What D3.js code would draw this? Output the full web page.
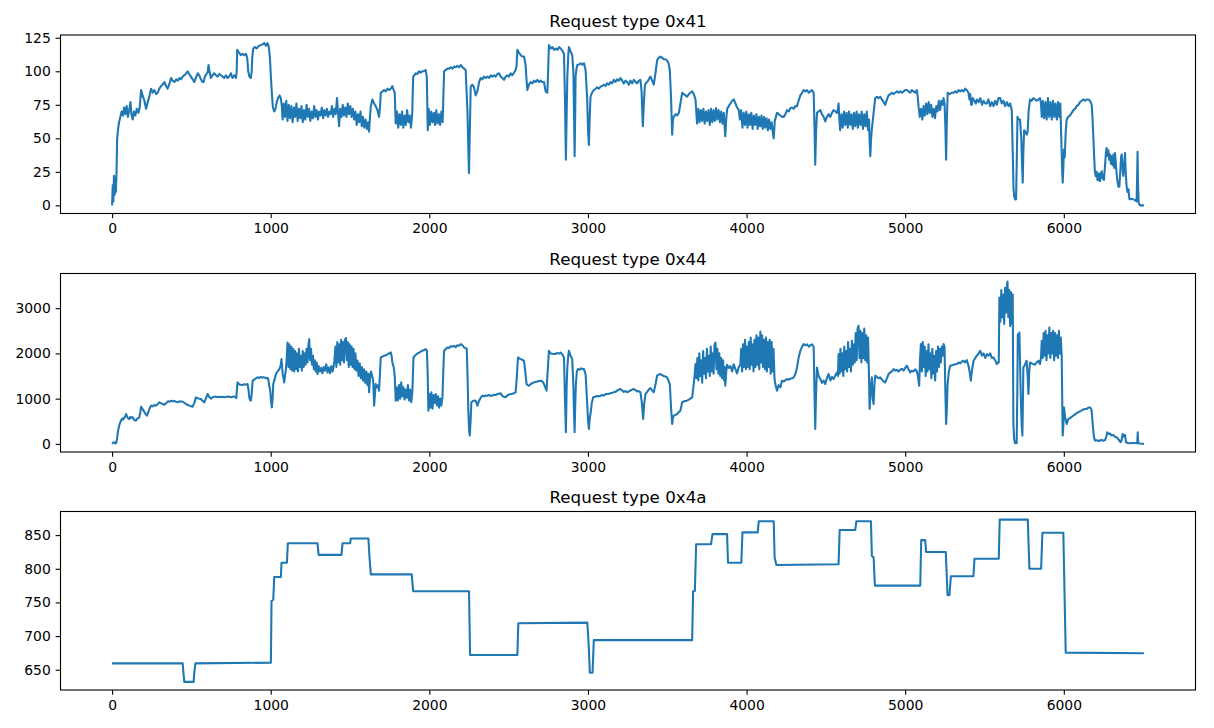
<!DOCTYPE html>
<html>
<head>
<meta charset="utf-8">
<script src="https://d3js.org/d3.v7.min.js"></script>
<style>
body { margin: 0; background: #fff; }
svg { display: block; font-family: "DejaVu Sans", sans-serif; }
.line { fill: none; stroke: #1f77b4; stroke-width: 2.08px; stroke-linejoin: round; }
.frame { fill: none; stroke: #000; stroke-width: 1.1px; }
.tick line { stroke: #000; stroke-width: 1.1px; }
.tick text { font-size: 13.9px; fill: #000; }
.title { font-size: 16.7px; text-anchor: middle; fill: #000; }
</style>
</head>
<body>
<svg id="chart" width="1214" height="728"></svg>
<script>
// [sample, value] pairs
const series41 = [[0,0],[4,15],[8,3],[12,22],[16,8],[20,20],[24,10],[28,25],[32,50],[38,57],[44,62],[52,66],[60,70],[68,67],[76,73],[84,68],[92,74],[100,66],[108,71],[116,77],[122,68],[130,64],[138,70],[146,67],[156,72],[166,69],[174,73],[183,86],[192,82],[204,78],[214,72],[225,77],[236,82],[246,87],[256,84],[267,86],[278,83],[288,84],[298,87],[308,89],[318,90],[330,92],[340,89],[350,87],[360,90],[372,95],[382,93],[393,92],[405,94],[415,93],[425,95],[435,94],[445,96],[455,97],[465,98],[476,100],[486,98],[497,96],[508,94],[518,92],[528,95],[540,98.5],[550,97],[560,94],[570,92],[577,92],[585,96],[595,98],[602,99],[608,104.7],[614,100],[623,95],[633,97],[644,98.5],[655,97],[665,96],[676,98],[686,97],[697,96],[707,95],[718,97],[728,95],[738,96],[749,98.5],[759,95],[770,97],[781,95],[785,99],[789,116],[800,114],[812,112],[822,113],[834,112],[844,113],[852,110],[858,100],[866,96],[875,95],[880,100],[884,111],[890,117],[900,118],[912,117],[925,119],[938,119.5],[948,120],[959,121],[970,119],[980,121],[988,118],[995,110],[1001,96],[1008,82],[1014,73],[1022,70],[1030,72],[1038,77],[1046,80],[1056,82],[1064,80],[1070,74],
  [1075,64],[1082,76],[1090,66],[1098,78],[1106,63],[1114,75],[1122,65],[1130,74],[1138,62],[1146,73],[1154,66],[1162,76],[1170,63],[1178,72],[1186,65],[1194,74],[1202,62],[1210,71],[1218,64],[1226,75],[1234,66],[1242,72],[1250,63],[1258,70],[1266,65],[1274,74],[1282,66],[1290,71],[1298,64],[1306,70],[1314,67],[1322,73],[1330,65],[1338,71],[1346,67],[1354,72],[1362,66],[1370,70],[1378,68],[1386,74],[1394,66],[1402,72],[1410,68],[1418,80],[1424,70],[1431,59],[1438,72],[1446,66],[1454,75],[1462,67],[1470,73],[1478,66],[1486,76],[1494,68],[1502,74],[1510,66],[1518,72],[1526,64],[1534,70],[1542,60],[1550,68],[1558,62],[1566,70],[1574,59],[1582,66],[1590,58],[1598,64],[1606,57],[1614,62],[1620,55],[1626,66],
  [1631,74],[1641,79],[1652,76],[1662,74],[1673,71],[1683,66],[1690,75],[1694,84],[1705,85],[1715,86],[1725,85],[1736,87],[1746,86],[1757,87],[1767,89],[1775,86],[1782,84],
  [1788,61],[1796,70],[1804,58],[1812,68],[1820,60],[1828,70],[1836,58],[1844,67],[1852,60],[1860,71],[1868,62],[1876,67],[1884,58],[1892,68],
  [1898,96],[1906,97],[1914,98.5],[1925,98],[1935,100],[1946,99],[1956,100],[1967,100],[1977,101],[1984,96],
  [1990,56],[1996,72],[2004,60],[2012,70],[2020,62],[2028,69],[2036,60],[2044,71],[2052,61],[2060,68],[2068,60],[2076,70],[2084,62],
  [2093,100],[2104,101],[2114,102],[2125,102],[2135,103],[2146,102],[2156,103.5],[2167,103],[2177,104],[2188,103],[2198,104.7],[2209,103],[2219,102],[2229,101],[2240,71],[2250,24],[2256,60],[2261,88.6],[2271,90],[2282,88],[2292,82],[2303,85],[2314,92],[2324,95],[2335,94],[2345,96],[2356,95],[2366,96],[2377,95],[2387,97],[2398,96],[2408,97],[2418,96],[2429,98],[2439,98.5],[2450,96],[2460,95],[2471,93.6],[2481,96],[2492,97],[2502,96],[2513,98.5],[2523,97],[2534,99],[2544,101],[2550,104],[2555,116],[2565,114],[2576,112],[2586,111],[2597,111],[2607,104.7],[2612,95],[2618,86],[2628,90],[2639,92],[2650,91],[2660,93],[2670,92],[2681,93.6],[2692,92],[2702,93],[2712,92],[2723,92],[2733,85],[2744,84],[2749,100],[2754,119.5],[2765,117],[2776,118],[2786,116],[2797,117],[2807,116],[2818,118],[2828,117],[2840,115],[2849,113],[2855,80],[2861,34],[2866,70],[2870,96],[2876,112],[2880,118],[2890,115],[2901,112],[2908,100],[2912,70],[2916,36.6],[2920,70],[2922,96],[2928,102],[2933,104.7],[2944,105],[2954,106],[2965,105],[2975,106],[2985,101],[2995,80],[3001,55],[3006,45],[3011,65],[3016,81],[3026,84],[3037,86],[3048,87],[3058,88],[3069,87],[3080,88.6],[3090,89],[3100,90],[3111,89],[3121,91],[3132,90],[3142,92],[3153,91],[3163,93.6],[3174,92],[3184,94],[3195,93],[3205,95],[3216,93],[3226,91],[3237,93],[3247,92],[3258,90],[3268,93],[3279,91],[3289,93.6],[3300,92],[3310,91],[3320,93],[3331,93.6],[3338,85],[3346,59],[3352,75],[3358,88],[3363,91],[3374,92],[3384,94],[3394,96],[3405,93],[3415,90],[3425,98],[3436,108],[3446,110],[3457,111],[3468,110],[3478,109],[3488,109],[3499,108],[3508,106],[3516,101],[3524,80],[3531,52.7],[3536,64],[3541,66],[3552,68],[3562,67],[3573,69],[3583,76],[3594,84],[3604,83],[3615,82],[3625,81],[3636,83],[3646,84],[3657,85],[3667,83],[3678,79],
  [3688,61],[3696,72],[3704,62],[3712,71],[3720,63],[3728,72],[3736,61],[3744,70],[3752,63],[3760,71],[3768,60],[3776,72],[3784,62],[3792,71],[3800,63],[3808,72.5],[3816,64],[3824,71],[3832,62],[3840,70],[3848,61],[3856,69],[3862,58],[3866,51.5],[3872,65],
  [3878,72],[3888,74],[3898,76],[3909,78],[3919,79],[3930,76],[3940,73],[3951,71],
  [3958,64],[3966,71],[3974,58],[3982,69],[3990,60],[3998,70],[4006,58],[4014,68],[4022,60],[4030,69],[4038,57],[4046,67],[4054,60],[4062,68],[4070,57],[4078,66],[4086,59],[4094,67],[4102,57],[4110,66],[4118,58],[4126,65],[4134,56],[4142,64],[4150,57],[4158,62],[4166,54],[4171,50],
  [4178,63],[4192,69],[4203,68],[4213,67],[4224,66],[4234,66],[4245,68],[4255,71],[4266,70],[4276,72.5],[4287,73],[4297,72],[4308,74],[4318,74],[4328,78],[4339,82],[4350,84],[4360,86],[4370,85],[4381,86],[4392,84],[4402,85],[4412,86],[4423,84],[4428,60],[4433,30.4],[4438,55],[4444,69],[4454,70],[4465,71],[4475,68],[4486,66],[4496,62.6],[4507,66],[4517,68],[4528,66],[4538,69],[4549,71],[4560,70],[4570,69],[4576,72],[4580,76],[4584,66],
  [4590,56],[4598,68],[4606,58],[4614,70],[4622,60],[4630,69],[4638,58],[4646,70],[4654,60],[4662,68],[4670,57],[4678,69],[4686,59],[4694,70],[4702,58],[4710,68],[4718,60],[4726,70],[4734,57],[4742,68],[4750,59],[4758,70],[4766,56],[4772,64],[4776,48],[4780,36.6],[4785,50],[4790,57],[4800,68],[4811,80],[4822,81],[4832,80],[4843,81],[4853,79],[4864,77],[4874,75],[4885,79],[4895,82],[4906,83],[4916,84],[4927,83],[4937,84],[4948,85],[4958,84],[4969,85],[4979,84],[4990,85],[5000,86],[5011,86],[5021,85],[5032,84],[5042,86],[5053,85],[5063,84],[5074,86],[5080,80],
  [5084,74],[5092,66],[5100,72],[5108,64],[5116,74],[5124,67],[5132,76],[5140,68],[5148,77],[5156,69],[5164,75],[5172,66],[5180,72],[5188,65],[5196,74],[5204,70],[5212,78],[5220,71],[5228,78],[5236,75],[5242,80],[5248,76],[5253,60],[5258,34],[5263,65],[5268,84],[5280,83],[5292,84],[5305,84],[5315,85],[5326,84],[5336,86],[5347,85],[5357,86],[5368,85],[5378,87],[5389,86],[5399,84],[5405,79],[5410,83],[5416,75],[5420,75],[5426,80],[5436,78],[5445,76],[5452,79],[5463,77],[5473,80],[5484,75],[5494,78],[5505,76],[5515,76],[5525,79],[5536,74],[5546,77],[5557,74],[5567,78],[5578,75],[5588,80],[5599,80],[5609,76],[5620,78],[5630,74],[5641,77],[5651,74],[5662,76],[5672,71],[5678,40],[5683,12],[5687,7],[5693,4.5],[5699,4.5],[5703,30],[5708,66],[5716,64],[5724,64],[5732,50],[5737,30],[5741,17],[5745,40],[5750,56],[5758,55],[5766,52.7],[5772,55],[5778,70],[5787,79],[5797,78],[5808,80],[5818,79],[5829,78],[5840,79],[5850,80],[5856,76],
  [5861,66],[5868,78],[5876,65],[5884,77],[5892,64],[5900,80],[5908,66],[5916,77],[5924,64],[5932,78],[5940,66],[5948,76],[5956,64],[5964,77],[5972,66],[5978,76],[5984,50],[5990,25],[5993,17],[5997,28],[6001,41.6],[6006,36],[6012,55],[6018,64],[6028,66],[6039,67],[6050,69],[6060,71],[6071,72],[6081,74],[6092,75],[6102,77],[6113,78],[6123,79],[6134,78],[6144,79],[6155,79],[6165,78],[6176,75],[6181,65],[6186,51.5],[6192,35],[6196,25],[6201,21.8],[6207,25],[6212,19],[6218,19],[6223,24],[6228,18],[6234,22],[6239,25.5],[6246,20],[6253,19],[6260,30],[6265,38],[6270,42.8],[6276,37],[6281,41],[6286,34],[6292,38],[6297,31],[6302,36.6],[6308,30],[6313,38],[6318,28],[6323,39],[6330,28],[6336,20],[6344,14],[6350,14],[6356,25],[6361,36],[6365,38],[6370,28],[6375,22],[6380,30],[6386,39],[6390,25],[6396,14],[6402,10],[6408,12],[6413,5],[6417,4.5],[6427,5],[6438,4.5],[6448,4],[6459,3],[6462,20],[6465,40],[6468,15],[6472,2],[6480,0],[6492,0],[6505,0]];

const series44 = [[0,0],[8,30],[15,37],[22,10],[25,20],[31,110],[36,250],[40,330],[46,420],[52,480],[57,515],[64,560],[70,540],[78,588],[83,610],[88,660],[95,600],[102,560],[109,550],[116,600],[123,580],[130,588],[137,540],[144,520],[151,515],[158,560],[165,570],[172,588],[178,700],[183,823],[190,780],[198,740],[204,700],[212,660],[220,625],[228,700],[236,780],[246,845],[256,830],[266,860],[277,845],[288,880],[298,919],[308,900],[319,880],[330,867],[340,900],[351,940],[361,930],[372,955],[383,940],[393,950],[404,930],[414,919],[425,940],[435,935],[445,930],[455,910],[466,882],[477,860],[487,845],[497,830],[508,823],[518,900],[529,1029],[539,1010],[550,1000],[560,992],[570,950],[581,919],[591,1000],[602,1102],[612,1040],[623,1000],[633,1030],[644,1040],[655,1044],[665,1030],[676,1040],[686,1035],[697,1040],[707,1030],[718,1035],[728,1045],[739,1040],[749,1030],[760,1040],[770,1044],[778,1040],[783,1010],[787,1200],[791,1360],[801,1320],[812,1308],[822,1300],[833,1320],[843,1310],[854,1323],[860,1200],[865,1029],[870,970],[875,955],[880,1100],[886,1397],[896,1420],[907,1450],[917,1470],[928,1460],[938,1480],[949,1470],[959,1470],[970,1450],[980,1460],[984,1440],[990,1300],[997,1176],[1002,950],[1007,808],[1012,1000],[1016,1323],[1024,1420],[1033,1544],[1043,1600],[1054,1654],[1062,1720],[1068,1874],[1072,1700],[1075,1560],[1080,1460],[1085,1360],[1090,1500],[1096,1654],[1101,1900],
  [1106,2242],[1112,1700],[1118,2200],[1124,1650],[1130,2150],[1136,1620],[1142,2100],[1148,1600],[1154,2050],[1160,1650],[1166,2000],[1172,1600],[1178,2100],[1184,1700],[1190,1950],[1196,1620],[1202,2050],[1208,1700],[1214,2000],[1220,1750],[1226,2100],[1232,1800],[1238,2200],[1243,2315],[1248,1850],[1254,2100],[1260,1750],[1266,1950],[1272,1650],[1278,1850],[1284,1600],[1290,1800],[1295,1544],[1302,1720],[1310,1600],[1318,1680],[1326,1560],[1334,1700],[1342,1620],[1350,1760],[1358,1580],[1366,1690],[1374,1560],[1382,1720],[1390,1600],[1396,1700],[1402,1850],[1408,2150],[1414,1700],[1420,2250],[1426,1800],[1432,2200],[1438,1750],[1444,2300],[1450,1850],[1456,2250],[1462,1800],[1468,2300],[1474,2340],[1480,1850],[1486,2250],[1492,1700],[1498,2200],[1504,1750],[1510,2150],[1516,1700],[1522,2100],[1528,1650],[1534,2000],[1540,1620],[1547,1840],[1554,1500],[1561,1780],[1568,1450],[1575,1700],[1582,1400],[1589,1650],[1596,1350],[1603,1600],[1610,1300],[1616,1550],[1620,1140],[1626,1450],[1632,1600],[1640,1500],[1646,1400],[1652,845],[1657,1100],[1662,1323],[1670,1250],[1678,1300],[1683,1176],[1688,1500],[1694,1911],[1704,1930],[1715,1948],[1725,1960],[1736,1980],[1746,2000],[1757,2021],[1762,1950],[1767,1800],[1775,1700],[1782,1500],
  [1788,955],[1795,1250],[1802,960],[1809,1300],[1816,1000],[1823,1360],[1830,1050],[1837,1250],[1844,980],[1851,1200],[1858,1020],[1865,1300],[1872,960],[1879,1200],[1886,920],[1893,1150],
  [1900,1911],[1912,1960],[1925,2000],[1938,2020],[1950,2050],[1964,2070],[1977,2095],[1985,2060],[1990,1500],
  [1994,735],[2000,1100],[2006,800],[2013,1140],[2020,780],[2027,1080],[2034,900],[2041,1100],[2048,850],[2055,1050],[2062,800],[2069,1000],[2076,850],[2083,1050],
  [2088,1600],[2093,2058],[2104,2100],[2114,2130],[2125,2120],[2135,2160],[2146,2150],[2156,2168],[2167,2140],[2177,2180],[2188,2170],[2198,2205],[2209,2180],[2219,2130],[2229,2120],[2236,2100],[2241,1500],[2246,700],[2251,300],[2255,184],[2260,500],[2265,919],[2276,950],[2285,960],[2292,955],[2303,845],[2313,950],[2324,1020],[2334,1066],[2345,1050],[2355,1070],[2366,1066],[2376,1080],[2387,1060],[2397,1070],[2408,1085],[2418,1080],[2429,1100],[2439,1110],[2450,1117],[2460,1060],[2470,1040],[2481,1029],[2492,1070],[2502,1090],[2513,1102],[2523,1110],[2534,1120],[2544,1140],[2552,1500],[2559,1911],[2567,1890],[2576,1874],[2586,1860],[2597,1837],[2605,1600],[2613,1323],[2620,1300],[2628,1286],[2638,1320],[2649,1340],[2660,1360],[2670,1370],[2681,1380],[2692,1390],[2702,1397],[2712,1380],[2723,1323],[2731,1250],[2739,1176],[2746,1600],[2754,2058],[2765,2000],[2776,1990],[2786,1985],[2797,1990],[2807,2010],[2818,1995],[2828,2020],[2838,1980],[2849,1911],[2855,1000],[2861,257],[2866,1300],[2870,1700],[2876,1950],[2880,2058],[2890,1950],[2901,1874],[2908,1300],[2912,700],[2916,257],[2920,900],[2924,1323],[2930,1600],[2937,1654],[2947,1640],[2957,1670],[2966,1650],[2975,1654],[2985,1544],[2995,900],[3001,500],[3006,330],[3011,550],[3016,660],[3024,900],[3033,1029],[3045,1040],[3056,1060],[3068,1050],[3080,1066],[3090,1080],[3100,1070],[3111,1100],[3121,1102],[3132,1110],[3142,1120],[3153,1130],[3163,1140],[3174,1150],[3184,1180],[3195,1200],[3205,1212],[3216,1180],[3226,1150],[3237,1170],[3247,1140],[3258,1160],[3268,1180],[3279,1200],[3289,1212],[3300,1190],[3310,1160],[3320,1170],[3331,1140],[3340,900],[3348,551],[3355,900],[3363,1102],[3373,1150],[3384,1200],[3394,1235],[3405,1180],[3415,1140],[3425,1300],[3436,1507],[3446,1530],[3457,1544],[3468,1520],[3478,1500],[3488,1490],[3499,1470],[3508,1400],[3516,1323],[3524,800],[3531,441],[3536,580],[3541,625],[3552,640],[3562,661],[3572,700],[3583,735],[3594,919],[3604,940],[3615,950],[3625,955],[3636,980],[3646,1000],[3657,1029],[3667,1323],[3672,1500],
  [3678,1764],[3684,1450],[3690,1900],[3696,1400],[3702,2000],[3708,1500],[3714,1850],[3720,1350],[3726,2050],[3732,1550],[3738,1900],[3744,1450],[3750,2100],[3756,1600],[3762,1950],[3768,1500],[3774,2150],[3780,1600],[3786,2000],[3792,1550],[3798,2200],[3804,2240],[3810,1650],[3816,2100],[3822,1550],[3828,2000],[3834,1500],[3840,1900],[3846,1450],[3852,1850],[3858,1400],[3862,1700],[3866,1286],[3872,1600],[3877,1750],[3888,1680],[3898,1720],[3909,1600],[3919,1760],[3930,1650],[3940,1560],[3951,1700],[3961,1750],
  [3966,2100],[3972,1600],[3978,2200],[3984,1700],[3990,2300],[3996,1650],[4002,2150],[4008,1700],[4014,2250],[4020,1650],[4026,2350],[4032,1750],[4038,2200],[4044,1600],[4050,2300],[4056,1700],[4062,2400],[4068,1750],[4074,2350],[4080,1650],[4087,2484],[4092,1800],[4098,2400],[4104,1700],[4110,2300],[4116,1650],[4122,2350],[4128,1600],[4134,2250],[4140,1700],[4146,2300],[4152,1550],[4158,2250],[4164,1600],[4170,2100],[4176,1450],[4181,1323],[4192,1176],[4202,1300],[4213,1250],[4223,1395],[4234,1380],[4245,1410],[4255,1433],[4266,1420],[4276,1440],[4287,1450],[4297,1470],[4308,1550],[4318,1690],[4328,1900],[4339,2058],[4350,2150],[4360,2205],[4370,2180],[4381,2200],[4392,2150],[4402,2180],[4412,2200],[4423,2150],[4428,1200],[4433,330],[4438,1100],[4444,1690],[4454,1500],[4465,1433],[4475,1350],[4486,1400],[4496,1323],[4506,1450],[4517,1544],[4528,1400],[4538,1480],[4549,1433],[4560,1520],[4570,1580],[4576,1500],
  [4580,1985],[4586,1550],[4592,2100],[4598,1600],[4604,2000],[4610,1500],[4616,2150],[4622,1650],[4628,2050],[4634,1600],[4640,2250],[4646,1700],[4652,2100],[4658,1600],[4664,2280],[4670,1750],[4676,2200],[4682,1800],[4688,2450],[4694,1850],[4700,2550],[4706,2610],[4712,1900],[4718,2500],[4724,1800],[4730,2450],[4736,1900],[4742,2550],[4748,1850],[4754,2400],[4760,1800],[4766,2350],[4770,1764],[4776,772],[4782,1200],[4790,1470],[4795,1000],[4801,882],[4806,1300],[4811,1507],[4822,1480],[4832,1450],[4843,1470],[4853,1420],[4864,1380],[4874,1360],[4885,1450],[4895,1544],[4906,1580],[4916,1600],[4927,1654],[4937,1620],[4948,1640],[4958,1600],[4969,1640],[4979,1660],[4990,1620],[5000,1680],[5011,1727],[5021,1650],[5032,1580],[5042,1620],[5053,1600],[5063,1650],[5074,1600],[5082,1450],[5088,1286],[5094,1900],
  [5099,2205],[5105,1600],[5111,2250],[5117,1700],[5123,2150],[5129,1500],[5135,2050],[5141,1600],[5147,2200],[5153,1650],[5159,2000],[5165,1450],[5171,2100],[5177,1550],[5183,1950],[5189,1400],[5195,2050],[5201,1600],[5207,2150],[5213,1700],[5219,2100],[5225,1800],[5231,2150],[5237,1950],[5242,2205],[5248,2150],[5253,1200],[5258,441],[5263,800],[5267,1300],[5275,1600],[5284,1727],[5295,1740],[5305,1750],[5316,1760],[5326,1764],[5337,1800],[5347,1780],[5358,1820],[5368,1837],[5378,1800],[5389,1850],[5399,1727],[5406,1600],[5414,1397],[5420,1600],[5431,1837],[5442,1900],[5452,1950],[5463,2000],[5473,2058],[5484,1950],[5494,2000],[5505,1900],[5515,1985],[5526,1950],[5536,2000],[5546,1900],[5557,1911],[5567,1850],[5578,1764],[5586,1800],[5590,1800],
  [5594,3234],[5600,2700],[5606,3400],[5612,2800],[5618,3300],[5624,2650],[5630,3450],[5636,2900],[5642,3500],[5645,3587],[5650,2800],[5656,3400],[5662,2600],[5668,3350],[5674,2650],[5678,3300],[5682,441],[5687,100],[5693,15],[5703,20],[5707,1200],[5710,2425],[5715,2300],[5720,2462],[5724,1800],[5729,1000],[5735,400],[5739,184],[5742,900],[5745,1690],[5755,1750],[5766,1837],[5772,1500],[5777,1102],[5782,1600],[5787,1800],[5797,1780],[5808,1764],[5818,1750],[5829,1800],[5840,1837],[5850,1764],[5856,1900],
  [5861,2280],[5867,1900],[5873,2450],[5879,1950],[5885,2500],[5891,1850],[5897,2400],[5903,2000],[5909,2573],[5915,1900],[5921,2450],[5927,2000],[5933,2500],[5939,1850],[5945,2450],[5951,1950],[5957,2400],[5963,1900],[5969,2500],[5975,2000],[5981,2350],[5987,1911],[5991,700],[5993,184],[5997,400],[6001,808],[6008,600],[6018,441],[6029,551],[6040,570],[6050,600],[6060,625],[6071,650],[6081,680],[6092,700],[6102,720],[6113,740],[6123,760],[6134,770],[6144,772],[6155,800],[6165,808],[6172,780],[6176,720],[6183,400],[6190,150],[6197,73],[6210,80],[6222,60],[6235,90],[6248,70],[6260,85],[6267,150],[6274,257],[6282,220],[6290,230],[6302,184],[6312,200],[6322,160],[6333,147],[6343,110],[6352,60],[6358,37],[6364,80],[6371,220],[6378,160],[6386,200],[6392,37],[6404,20],[6417,15],[6430,20],[6445,18],[6458,15],[6463,15],[6466,257],[6469,20],[6480,10],[6492,5],[6505,0]];

const series4a = [[0,659.5],[445,659.5],[450,645],[455,632],[514,632],[518,645],[525,659.5],[1001,660.5],[1003,700],[1005,752],[1016,754],[1019,770],[1022,787.7],[1064,787.7],[1068,809],[1102,809],[1108,838],[1295,838],[1302,820.6],[1446,820.6],[1453,838],[1501,838],[1505,845],[1616,845],[1622,820],[1631,791.7],[1889,791.7],[1898,766.7],[2250,766.7],[2257,672],[2555,672],[2561,719],[2996,720],[3004,690],[3012,645.5],[3029,645.5],[3037,694],[3657,694],[3663,766.7],[3674,767],[3682,836.5],[3776,836.5],[3785,851.5],[3877,851.5],[3883,809],[3967,809],[3974,854],[4070,854],[4077,870.5],[4171,870.5],[4177,816.6],[4188,805.6],[4580,806.6],[4587,857.5],[4685,857.5],[4692,870.5],[4784,870.5],[4790,819],[4801,817],[4809,775],[5095,775],[5101,842.5],[5126,842.5],[5132,825],[5256,825],[5262,790],[5267,760.7],[5279,760.7],[5288,789],[5430,789],[5437,815],[5590,815],[5596,873],[5773,873],[5783,800],[5857,800],[5865,853.5],[5997,853.5],[6012,675.4],[6505,674.5]];

const titles = ["Request type 0x41", "Request type 0x44", "Request type 0x4a"];
const xTicks = [0, 1000, 2000, 3000, 4000, 5000, 6000];
const yTicks41 = [0, 25, 50, 75, 100, 125];
const yTicks44 = [0, 1000, 2000, 3000];
const yTicks4a = [650, 700, 750, 800, 850];

let margin = {left: 60.5, right: 18.5};
let plotTops = [35, 273.5, 511.5];
let plotHeight = 178.5;
let width = 1214 - margin.left - margin.right;

function padded(ext){
    let m = (ext[1] - ext[0]) * 0.05;
    return [ext[0] - m, ext[1] + m];
}

function buildGraph(data, title, yTicks, top){
    let svg = d3.select("#chart")
                .append("g")
                .attr("transform", "translate(" + margin.left + "," + top + ")");

    let xScale = d3.scaleLinear()
            .domain(padded(d3.extent(data, d => d[0])))
            .range([0, width]);
    let yScale = d3.scaleLinear()
            .domain(padded(d3.extent(data, d => d[1])))
            .range([plotHeight, 0]);

    let xAxis = d3.axisBottom(xScale)
            .tickValues(xTicks)
            .tickFormat(d3.format("d"))
            .tickSizeOuter(0)
            .tickSize(4.86)
            .tickPadding(4.86);
    let yAxis = d3.axisLeft(yScale)
            .tickValues(yTicks)
            .tickFormat(d3.format("d"))
            .tickSizeOuter(0)
            .tickSize(4.86)
            .tickPadding(4.86);

    let line = d3.line()
            .x(d => xScale(d[0]))
            .y(d => yScale(d[1]));

    svg.append("path")
        .datum(data)
        .attr("class", "line")
        .attr("d", line);

    let gx = svg.append("g")
        .attr("transform", "translate(0," + plotHeight + ")")
        .call(xAxis);
    let gy = svg.append("g")
        .call(yAxis);
    gx.attr("font-family", null).attr("font-size", null);
    gy.attr("font-family", null).attr("font-size", null);
    gx.select(".domain").remove();
    gy.select(".domain").remove();

    svg.append("rect")
        .attr("class", "frame")
        .attr("width", width)
        .attr("height", plotHeight);

    svg.append("text")
        .attr("class", "title")
        .attr("x", width / 2)
        .attr("y", -8.3)
        .text(title);
}

buildGraph(series41, titles[0], yTicks41, plotTops[0]);
buildGraph(series44, titles[1], yTicks44, plotTops[1]);
buildGraph(series4a, titles[2], yTicks4a, plotTops[2]);
</script>
</body>
</html>
